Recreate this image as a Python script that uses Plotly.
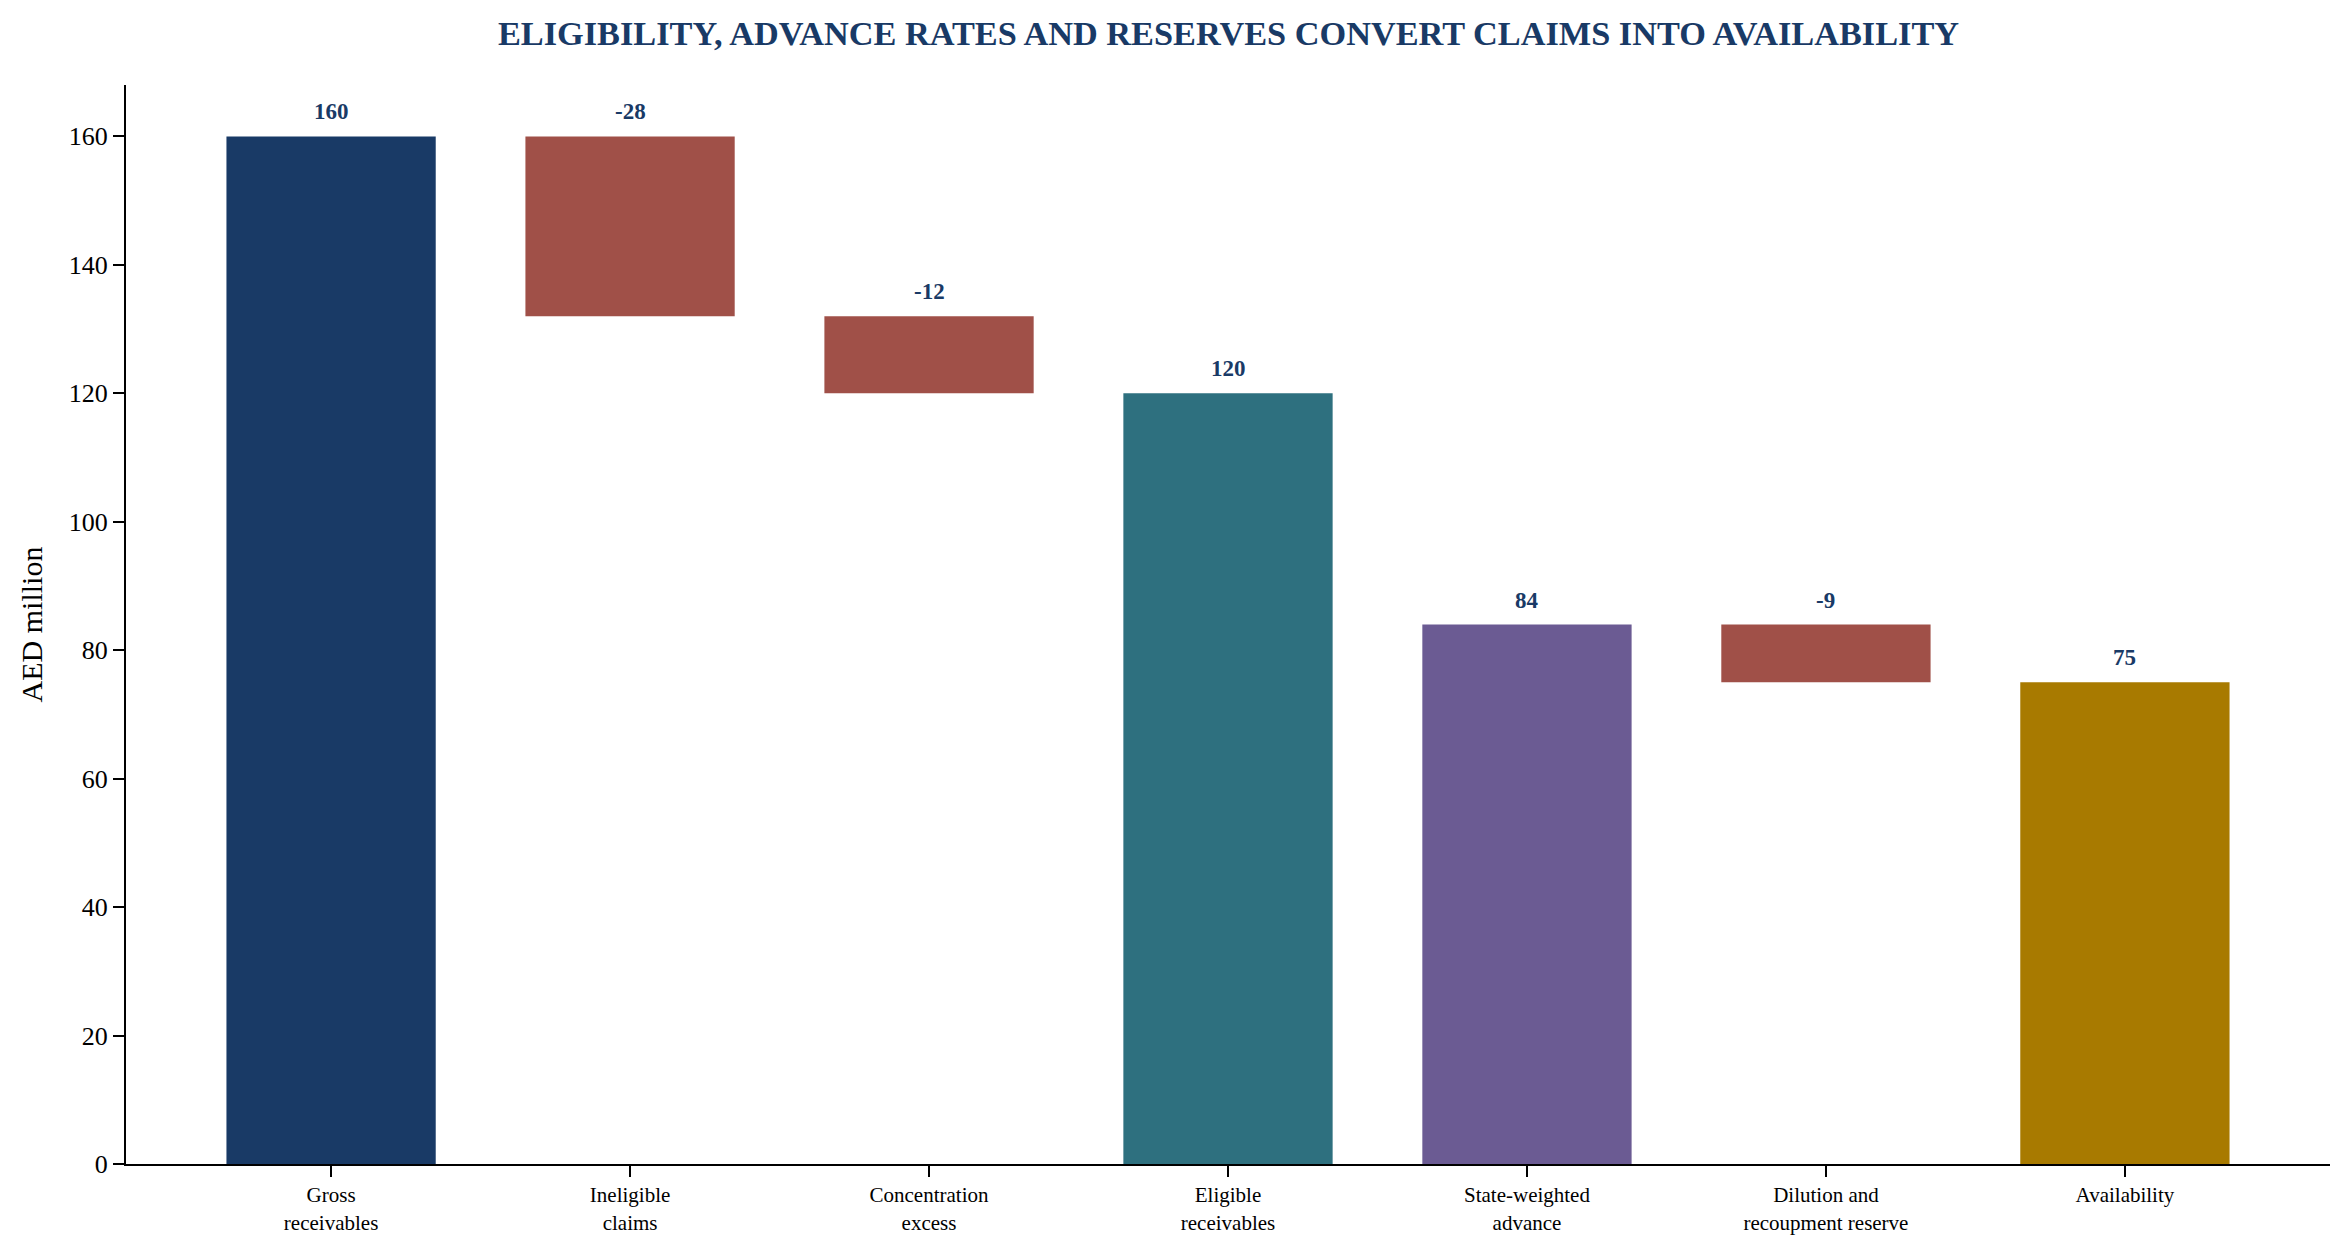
import plotly.graph_objects as go

# waterfall steps: totals are drawn from zero, deltas hang from the running level
categories = ["Gross<br>receivables", "Ineligible<br>claims", "Concentration<br>excess",
              "Eligible<br>receivables", "State-weighted<br>advance",
              "Dilution and<br>recoupment reserve", "Availability"]
values = [160, -28, -12, 120, 84, -9, 75]
kinds = ["total", "delta", "delta", "total", "total", "delta", "total"]
labels = ["160", "-28", "-12", "120", "84", "-9", "75"]
colors = ["#193a66", "#a05048", "#a05048", "#2e707f", "#6b5b93", "#a05048", "#a87a00"]

SERIF = "Liberation Serif, Times New Roman, serif"
NAVY = "#193a66"

bases, heights, tops = [], [], []
level = 0
for v, k in zip(values, kinds):
    if k == "total":
        bases.append(0)
        heights.append(v)
        level = v
    else:
        new_level = level + v
        bases.append(min(level, new_level))
        heights.append(abs(v))
        level = new_level
    tops.append(bases[-1] + heights[-1])

xs = list(range(len(categories)))

fig = go.Figure(go.Bar(
    x=xs, y=heights, base=bases,
    marker=dict(color=colors, line=dict(width=0)),
    width=0.7, hoverinfo="skip",
))

for x, top, lab in zip(xs, tops, labels):
    fig.add_annotation(x=x, y=top, text=f"<b>{lab}</b>", showarrow=False,
                       yanchor="bottom", yshift=10,
                       font=dict(family=SERIF, size=23, color=NAVY))

fig.update_layout(
    template="none",
    width=2349, height=1253,
    margin=dict(l=126, r=19, t=85, b=89),
    paper_bgcolor="white", plot_bgcolor="white",
    showlegend=False,
    title=dict(text="<b>ELIGIBILITY, ADVANCE RATES AND RESERVES CONVERT CLAIMS INTO AVAILABILITY</b>",
               x=0.523, xanchor="center", y=0.974, yanchor="middle", yref="container",
               font=dict(family=SERIF, size=34.3, color=NAVY)),
    font=dict(family=SERIF, color="black"),
)
fig.update_xaxes(
    range=[-0.686, 6.686], tickvals=xs, ticktext=categories,
    showgrid=False, zeroline=False, automargin=False,
    showline=True, linecolor="black", linewidth=2,
    ticks="outside", ticklen=11, tickwidth=2, tickcolor="black",
    tickfont=dict(family=SERIF, size=21, color="black"),
)
fig.update_yaxes(
    range=[0, 168], dtick=20, tick0=0,
    showgrid=False, zeroline=False, automargin=False,
    showline=True, linecolor="black", linewidth=2,
    ticks="outside", ticklen=11, tickwidth=2, tickcolor="black",
    tickfont=dict(family=SERIF, size=26, color="black"),
    title=dict(text="AED million", font=dict(family=SERIF, size=30, color="black"), standoff=17),
)

# drop the browser's default body margin so the figure sits at the page origin
fig.write_html("out.html", config={"displayModeBar": False},
               post_script="document.body.style.margin='0';")
